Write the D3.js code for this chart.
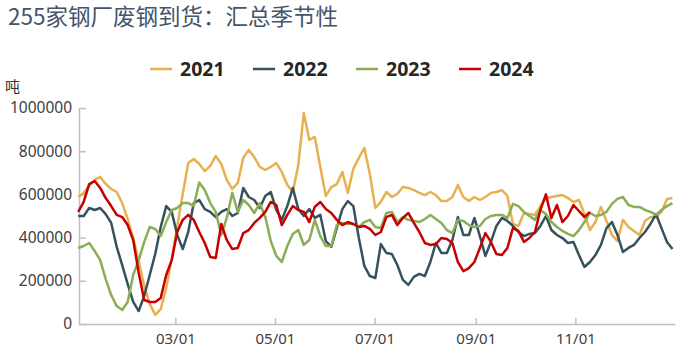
<!DOCTYPE html>
<html>
<head>
<meta charset="utf-8">
<script src="https://cdnjs.cloudflare.com/ajax/libs/d3/7.8.5/d3.min.js"></script>
<style>
    body { margin: 0; background: #fff; }
    #chart-area svg { display: block; }
    .axis path, .axis line { stroke: #bfbfbf; stroke-width: 1.5px; }
    .axis text { font-family: "Noto Sans", sans-serif; fill: #404040; }
</style>
</head>
<body>
<div id="chart-area"></div>
<script>

// Seasonal view: one line per year, x = day of the year
var years = ["2021", "2022", "2023", "2024"];
var tickDays = [59, 120, 181, 243, 304];
var tickLabels = ["03/01", "05/01", "07/01", "09/01", "11/01"];
var yTicks = [0, 200000, 400000, 600000, 800000, 1000000];

// readings are taken roughly every 3.37 days, starting at the first day of the year
var firstDay = -0.5;
var stepDays = 3.37;

var arrivals2021 = [
    588000, 607000, 639000, 667000, 681000, 648000, 625000, 611000, 560000, 486000,
    398000, 292000, 176000, 93000, 42000, 69000, 167000, 301000, 454000, 602000,
    745000, 764000, 741000, 708000, 732000, 778000, 741000, 667000, 625000, 653000,
    769000, 806000, 773000, 727000, 713000, 727000, 745000, 704000, 644000, 611000,
    736000, 977000, 852000, 866000, 727000, 593000, 634000, 648000, 704000, 607000,
    718000, 769000, 815000, 695000, 537000, 565000, 611000, 588000, 602000, 634000,
    630000, 620000, 607000, 597000, 611000, 597000, 569000, 569000, 588000, 644000,
    588000, 569000, 588000, 574000, 588000, 607000, 611000, 620000, 593000, 463000,
    454000, 514000, 509000, 505000, 546000, 583000, 588000, 593000, 597000, 583000,
    565000, 574000, 509000, 435000, 472000, 542000, 477000, 412000, 384000, 482000,
    449000, 431000, 412000, 477000, 495000, 495000, 519000, 579000, 583000
];
var arrivals2022 = [
    500000, 500000, 537000, 528000, 537000, 509000, 468000, 357000, 273000, 185000,
    102000, 60000, 130000, 227000, 324000, 449000, 546000, 519000, 412000, 347000,
    426000, 560000, 574000, 532000, 519000, 495000, 519000, 532000, 500000, 514000,
    630000, 588000, 574000, 537000, 593000, 611000, 528000, 482000, 546000, 630000,
    532000, 500000, 532000, 491000, 505000, 384000, 357000, 444000, 532000, 569000,
    546000, 398000, 269000, 222000, 213000, 370000, 329000, 324000, 273000, 204000,
    181000, 218000, 232000, 222000, 287000, 375000, 329000, 329000, 389000, 495000,
    412000, 412000, 491000, 407000, 315000, 380000, 454000, 491000, 477000, 454000,
    426000, 407000, 417000, 421000, 454000, 500000, 435000, 412000, 398000, 375000,
    380000, 319000, 264000, 287000, 319000, 366000, 444000, 472000, 412000, 333000,
    352000, 366000, 398000, 426000, 463000, 509000, 444000, 380000, 347000
];
var arrivals2023 = [
    352000, 361000, 375000, 338000, 296000, 208000, 134000, 83000, 65000, 102000,
    227000, 296000, 380000, 449000, 440000, 407000, 472000, 528000, 537000, 560000,
    560000, 546000, 655000, 620000, 560000, 519000, 412000, 491000, 607000, 519000,
    574000, 551000, 514000, 560000, 495000, 384000, 315000, 287000, 361000, 417000,
    435000, 366000, 389000, 482000, 407000, 361000, 361000, 458000, 468000, 463000,
    463000, 449000, 472000, 482000, 449000, 444000, 514000, 519000, 472000, 495000,
    482000, 477000, 472000, 486000, 505000, 486000, 468000, 435000, 421000, 482000,
    477000, 458000, 449000, 454000, 486000, 500000, 505000, 505000, 491000, 556000,
    546000, 519000, 500000, 482000, 528000, 509000, 472000, 449000, 431000, 417000,
    407000, 435000, 472000, 514000, 500000, 505000, 519000, 556000, 579000, 588000,
    551000, 542000, 542000, 528000, 519000, 505000, 528000, 546000, 560000
];
var arrivals2024 = [
    519000, 565000, 648000, 662000, 630000, 583000, 546000, 505000, 495000, 458000,
    389000, 236000, 111000, 102000, 102000, 120000, 227000, 296000, 426000, 482000,
    505000, 482000, 426000, 375000, 310000, 306000, 463000, 389000, 347000, 352000,
    421000, 435000, 468000, 491000, 519000, 565000, 551000, 458000, 505000, 546000,
    528000, 519000, 472000, 542000, 565000, 532000, 514000, 482000, 458000, 472000,
    463000, 449000, 454000, 440000, 412000, 426000, 495000, 505000, 458000, 491000,
    514000, 468000, 426000, 375000, 366000, 370000, 398000, 394000, 375000, 287000,
    245000, 259000, 287000, 352000, 421000, 380000, 324000, 319000, 352000, 444000,
    431000, 380000, 398000, 426000, 528000, 600000, 491000, 551000, 472000, 500000,
    551000, 523000, 495000, 519000
];

var colorScale = d3.scaleOrdinal()
    .domain(years)
    .range(["#e8b04f", "#35525d", "#8aae56", "#c80000"]);


/*
 *  SeasonalChart - one line per year on a shared day-of-year axis
 */

SeasonalChart = function(_parentElement, _data) {
    this.parentElement = _parentElement;
    this.data = _data;
    this.initVis();
};

SeasonalChart.prototype.initVis = function() {
    var vis = this;
    vis.margin = { top: 108, right: 6, bottom: 27, left: 79 };

    vis.width = 681 - vis.margin.left - vis.margin.right;
    vis.height = 351 - vis.margin.top - vis.margin.bottom;

    vis.root = d3.select("#" + vis.parentElement).append("svg")
        .attr("width", 681)
        .attr("height", 351);

    vis.svg = vis.root.append("g")
        .attr("transform", "translate(" + vis.margin.left + "," + vis.margin.top + ")");

    // Title, unit and legend
    vis.root.append("text")
        .attr("x", 8)
        .attr("y", 25)
        .style("font-family", "'Noto Sans CJK SC', sans-serif")
        .style("font-size", "22.5px")
        .style("fill", "#44546a")
        .text("255家钢厂废钢到货：汇总季节性");

    vis.root.append("text")
        .attr("x", 5)
        .attr("y", 92)
        .style("font-family", "'Noto Sans CJK SC', sans-serif")
        .style("font-size", "15px")
        .style("fill", "#333")
        .text("吨");

    var legend = vis.root.selectAll(".legend-item")
        .data(years)
        .enter().append("g")
        .attr("class", "legend-item")
        .attr("transform", function(d, i) { return "translate(" + (150 + i * 103) + ",69)"; });

    legend.append("line")
        .attr("x1", 0).attr("x2", 22)
        .attr("y1", 0).attr("y2", 0)
        .style("stroke", function(d) { return colorScale(d); })
        .style("stroke-width", 2.5);

    legend.append("text")
        .attr("x", 30)
        .attr("y", 6.5)
        .style("font-family", "'Noto Sans', sans-serif")
        .style("font-size", "19.5px")
        .style("font-weight", "bold")
        .style("fill", "#262626")
        .text(function(d) { return d; });

    // Scales and axes
    vis.x = d3.scaleLinear()
        .domain([0, 365])
        .range([0, vis.width]);

    vis.y = d3.scaleLinear()
        .domain([0, 1000000])
        .range([vis.height, 0]);

    vis.xAxis = d3.axisBottom(vis.x)
        .tickValues(tickDays)
        .tickFormat(function(d, i) { return tickLabels[i]; })
        .tickSizeInner(-6)
        .tickSizeOuter(0)
        .tickPadding(9);

    vis.yAxis = d3.axisLeft(vis.y)
        .tickValues(yTicks)
        .tickFormat(d3.format("d"))
        .tickSizeInner(-7)
        .tickSizeOuter(0)
        .tickPadding(7);

    vis.svg.append("g")
        .attr("class", "x-axis axis")
        .attr("transform", "translate(0," + vis.height + ")");

    vis.svg.append("g")
        .attr("class", "y-axis axis");

    vis.line = d3.line()
        .x(function(d) { return vis.x(d.day); })
        .y(function(d) { return vis.y(d.value); });

    vis.wrangleData();
};

SeasonalChart.prototype.wrangleData = function() {
    var vis = this;

    // attach a day-of-year to every reading
    vis.displayData = vis.data.map(function(s) {
        return {
            year: s.year,
            values: s.values.map(function(v, i) {
                return { day: firstDay + i * stepDays, value: v };
            })
        };
    });

    vis.updateVis();
};

SeasonalChart.prototype.updateVis = function() {
    var vis = this;

    vis.svg.select(".x-axis").call(vis.xAxis)
        .selectAll("text").style("font-size", "15px");
    vis.svg.select(".y-axis").call(vis.yAxis)
        .selectAll("text").style("font-size", "15.5px");

    var lines = vis.svg.selectAll(".year-line")
        .data(vis.displayData);

    lines.enter().append("path")
        .attr("class", "year-line")
        .merge(lines)
        .attr("d", function(d) { return vis.line(d.values); })
        .style("fill", "none")
        .style("stroke", function(d) { return colorScale(d.year); })
        .style("stroke-width", 2.5)
        .style("stroke-linejoin", "round");

    lines.exit().remove();
};

var chartData = [
    { year: "2021", values: arrivals2021 },
    { year: "2022", values: arrivals2022 },
    { year: "2023", values: arrivals2023 },
    { year: "2024", values: arrivals2024 }
];

var seasonalChart = new SeasonalChart("chart-area", chartData);

</script>
</body>
</html>
